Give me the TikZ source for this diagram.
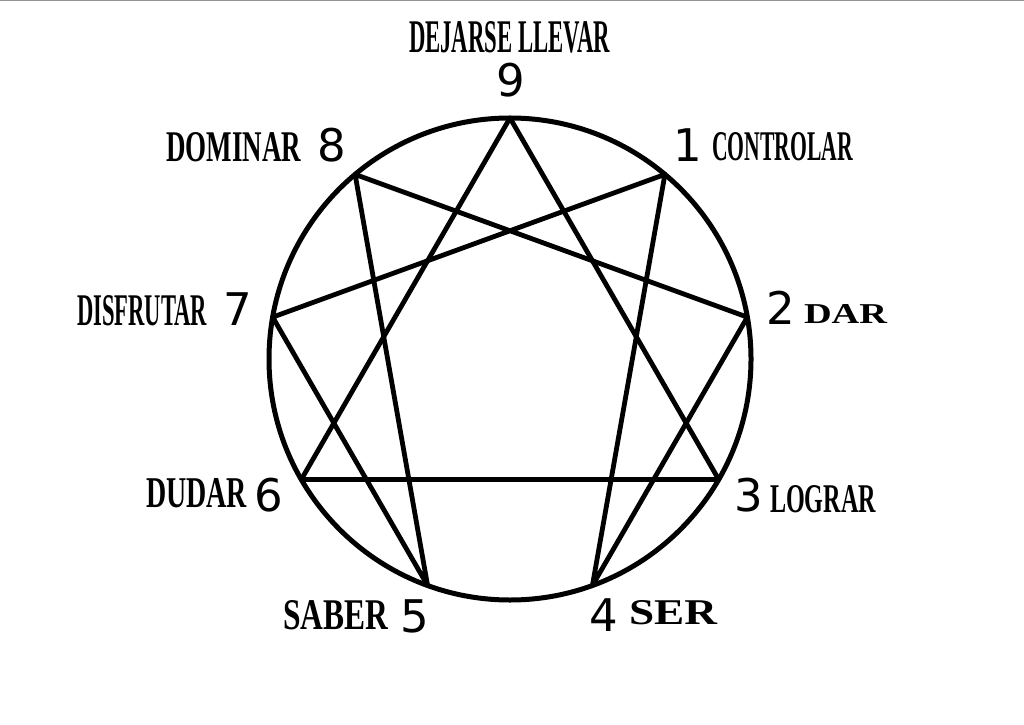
\documentclass[tikz,border=0pt]{standalone}
\usepackage{fontspec}
\usepackage{graphicx}
\usetikzlibrary{calc}
\newfontfamily\labfont{Liberation Serif}[BoldFont={* Bold}]
\newfontfamily\numfont{DejaVu Sans}
\newcommand\lbl[3]{\resizebox{#1pt}{#2pt}{\labfont\bfseries #3}}
\begin{document}
\begin{tikzpicture}[x=1pt,y=1pt,
  lab/.style={inner sep=0pt,outer sep=0pt,anchor=base west},
  num/.style={inner sep=0pt,outer sep=0pt,anchor=base,font=\numfont\fontsize{45}{45}\selectfont},
  ring/.style={line width=5pt},
  chord/.style={line width=4.8pt,line join=round}]
\useasboundingbox (0,0) rectangle (1024,724);
\fill[white] (0,0) rectangle (1024,724);
\draw[line width=1.6pt,color=black!42] (0,723.3) -- (1024,723.3);
\coordinate (c) at (510,365);
\foreach \k in {1,...,9}{\coordinate (p\k) at ($(c)+({90-40*\k}:241)$);}
\node[ring,draw,circle,minimum size=482pt,inner sep=0pt] (ring) at (c) {};
\draw[chord] (p9) -- (p3) -- (p6) -- cycle;
\draw[chord] (p1) -- (p4) -- (p2) -- (p8) -- (p5) -- (p7) -- cycle;
% numbers
\node[num] (n9) at (510.5,627) {9};
\node[num] (n1) at (688,562) {1};
\node[num] (n2) at (781,400) {2};
\node[num] (n3) at (749,213) {3};
\node[num] (n4) at (604,93) {4};
\node[num] (n5) at (415,92) {5};
\node[num] (n6) at (269,213) {6};
\node[num] (n7) at (238,399) {7};
\node[num] (n8) at (332,562) {8};
% labels
\node[lab] (t9) at (409,671) {\lbl{201}{31}{DEJARSE LLEVAR}};
\node[lab] (t1) at (712,563) {\lbl{141}{28}{CONTROLAR}};
\node[lab] (t2) at (804,401) {\lbl{83}{19}{DAR}};
\node[lab] (t3) at (770,212) {\lbl{106}{27}{LOGRAR}};
\node[lab] (t4) at (629,100) {\lbl{88}{24}{SER}};
\node[lab] (t8) at (166,562) {\lbl{135}{29}{DOMINAR}};
\node[lab] (t7) at (77,399) {\lbl{130}{30}{DISFRUTAR}};
\node[lab] (t6) at (146,217) {\lbl{101}{29}{DUDAR}};
\node[lab] (t5) at (283,95) {\lbl{105}{29}{SABER}};
\end{tikzpicture}
\end{document}
